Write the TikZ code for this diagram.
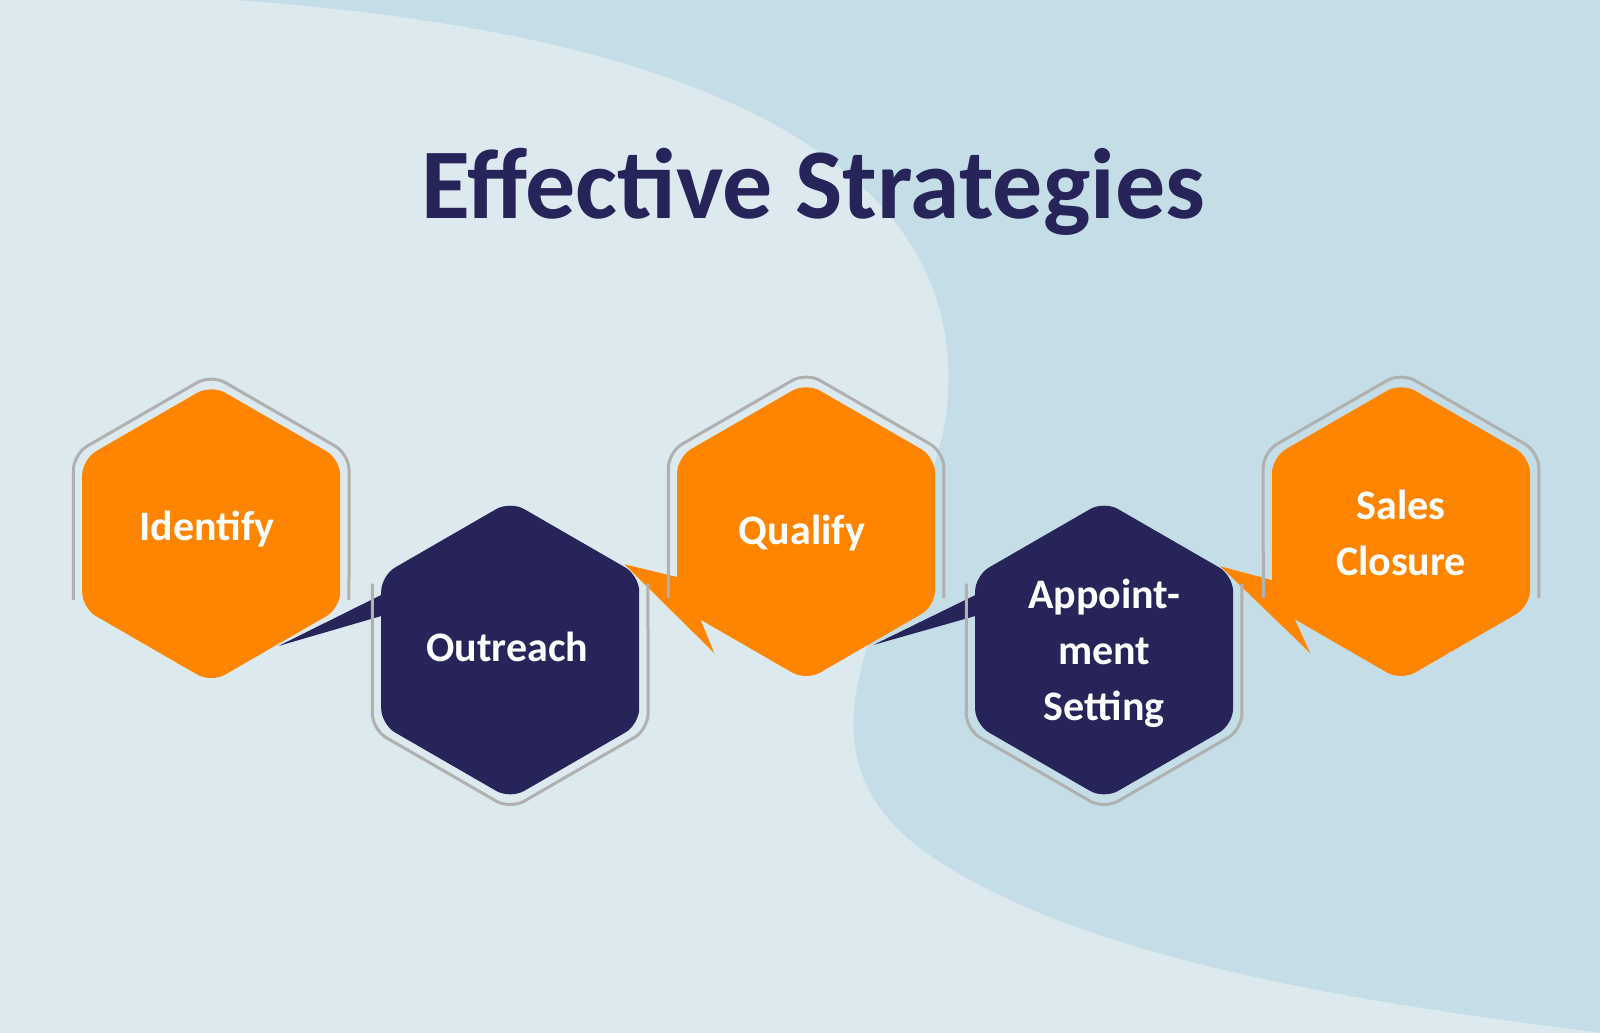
\documentclass[tikz,border=0pt]{standalone}
\usepackage{fontspec}
\setmainfont{Carlito}
\definecolor{bgA}{HTML}{DCE9EF}
\definecolor{bgB}{HTML}{C5DDE7}
\definecolor{org}{HTML}{FF8500}
\definecolor{nav}{HTML}{27245A}
\definecolor{rim}{HTML}{B0B0B0}
\tikzset{
 hexfill/.style={rounded corners=16pt},
 rimline/.style={draw=rim,line width=3pt,rounded corners=16pt},
 lbl/.style={text=white,font=\bfseries\fontsize{42}{56}\selectfont,align=center},
}
\newcommand{\hexbox}[2]{%
 \begin{scope}[shift={(#1)}]
  \fill[#2,hexfill] (30:146)--(90:146)--(150:146)--(210:146)--(270:146)--(330:146)--cycle;
 \end{scope}}
\begin{document}
\begin{tikzpicture}[x=1.0204pt,y=-1.0204pt]
\fill[bgA] (0,0) rectangle (1568,1012);
\useasboundingbox (0,0) rectangle (1568,1012);
\fill[bgB] (230,0) .. controls (800,40) and (960,220) .. (925,420)
  .. controls (890,580) and (760,720) .. (900,830)
  .. controls (1060,950) and (1400,990) .. (1568,1012) -- (1568,0) -- cycle;
\node[text=nav,font=\bfseries\fontsize{100}{110}\selectfont] (title) at (797,188) {Effective Strategies};
% wedges
\coordinate (w1a) at (273,633); \coordinate (w1b) at (376,603); \coordinate (w1c) at (420,560);
\fill[nav] (w1a)--(w1b)--(w1c)--cycle;
\coordinate (w2a) at (612,553); \coordinate (w2b) at (670,567); \coordinate (w2c) at (700,640);
\fill[org] (w2a)--(w2b)--(w2c)--cycle;
\coordinate (w3a) at (856,632); \coordinate (w3b) at (958,603); \coordinate (w3c) at (1003,560);
\fill[nav] (w3a)--(w3b)--(w3c)--cycle;
\coordinate (w4a) at (1196,555); \coordinate (w4b) at (1252,570); \coordinate (w4c) at (1284,640);
\fill[org] (w4a)--(w4b)--(w4c)--cycle;
% rims
\foreach \c in {{207,523},{790,521},{1373,521}}{
 \begin{scope}[shift={(\c)}]
 \draw[rimline] (-135,65)--(210:156)--(270:156)--(330:156)--(135,65);
 \end{scope}}
\foreach \c in {{500,637},{1082,637}}{
 \begin{scope}[shift={(\c)}]
 \draw[rimline] (-135,-65)--(150:156)--(90:156)--(30:156)--(135,-65);
 \end{scope}}
\hexbox{207,523}{org}
\hexbox{500,637}{nav}
\hexbox{790,521}{org}
\hexbox{1082,637}{nav}
\hexbox{1373,521}{org}
\node[lbl] (n1) at (203,518) {Identify};
\node[lbl] (n2) at (497,634) {Outreach};
\node[lbl] (n3) at (786,522) {Qualify};
\node[lbl] (n4) at (1082,640) {Appoint-\\ment\\Setting};
\node[lbl] (n5) at (1373,522) {Sales\\Closure};
\end{tikzpicture}
\end{document}
